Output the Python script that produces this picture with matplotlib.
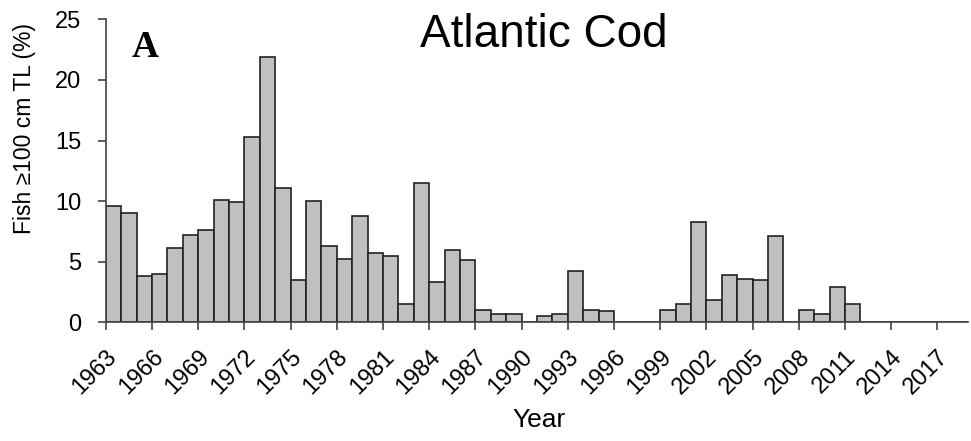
import numpy as np
import matplotlib.pyplot as plt
import matplotlib.transforms as mtransforms

plt.rcParams['font.family'] = ['Liberation Sans', 'DejaVu Sans']

# Percentage of fish >= 100 cm TL per year (0 = no bar drawn)
years = list(range(1963, 2019))
pct = [9.6, 9.0, 3.8, 4.0, 6.1, 7.2, 7.6, 10.1, 9.9, 15.3,
       21.9, 11.1, 3.5, 10.0, 6.3, 5.25, 8.75, 5.7, 5.5, 1.55,
       11.5, 3.3, 6.0, 5.15, 1.05, 0.66, 0.66, 0.0, 0.55, 0.66,
       4.2, 1.05, 0.95, 0.0, 0.0, 0.0, 1.05, 1.55, 8.25, 1.85,
       3.9, 3.6, 3.5, 7.1, 0.0, 1.05, 0.66, 2.9, 1.55, 0.0,
       0.0, 0.0, 0.0, 0.0, 0.0, 0.0]
tick_years = list(range(1963, 2018, 3))
yticks = [0, 5, 10, 15, 20, 25]

fig = plt.figure(figsize=(9.71, 4.41), dpi=100)
ax = fig.add_axes([0.109, 0.269, 0.888, 0.687])

ax.bar(years, pct, width=1.0, align='edge', color='#c0c0c0',
       edgecolor='#222222', linewidth=1.2)

ax.set_xlim(1963, 2019)
ax.set_ylim(0, 25)
ax.set_xticks(tick_years)
ax.set_xticklabels([str(y) for y in tick_years], rotation=45,
                   ha='right', rotation_mode='anchor', fontsize=17)
ax.set_yticks(yticks)
ax.set_yticklabels([str(v) for v in yticks], fontsize=17)

# shift the year labels a little to the right, like the original
shift = mtransforms.ScaledTranslation(12 / 100, 0, fig.dpi_scale_trans)
for lab in ax.get_xticklabels():
    lab.set_transform(lab.get_transform() + shift)

for s in ['top', 'right']:
    ax.spines[s].set_visible(False)
for s in ['left', 'bottom']:
    ax.spines[s].set_color('#444444')
    ax.spines[s].set_linewidth(1.2)
ax.tick_params(direction='out', length=6, width=1.2, color='#444444')
ax.tick_params(axis='x', pad=11)
ax.tick_params(axis='y', pad=11.5)

fig.text(24 / 971, 1 - 129 / 441, 'Fish \u2265100 cm TL (%)', rotation=90,
         ha='center', va='center', fontsize=16.5)
fig.text(539 / 971, 1 - 420 / 441, 'Year', ha='center', va='center',
         fontsize=19)

fig.text(544 / 971, 1 - 46.7 / 441, 'Atlantic Cod', ha='center',
         va='baseline', fontsize=33)
fig.text(131.7 / 971, 1 - 57 / 441, 'A', ha='left', va='baseline',
         fontsize=27, fontweight='bold', family='Liberation Serif')

fig.savefig('out.png', dpi=100)
